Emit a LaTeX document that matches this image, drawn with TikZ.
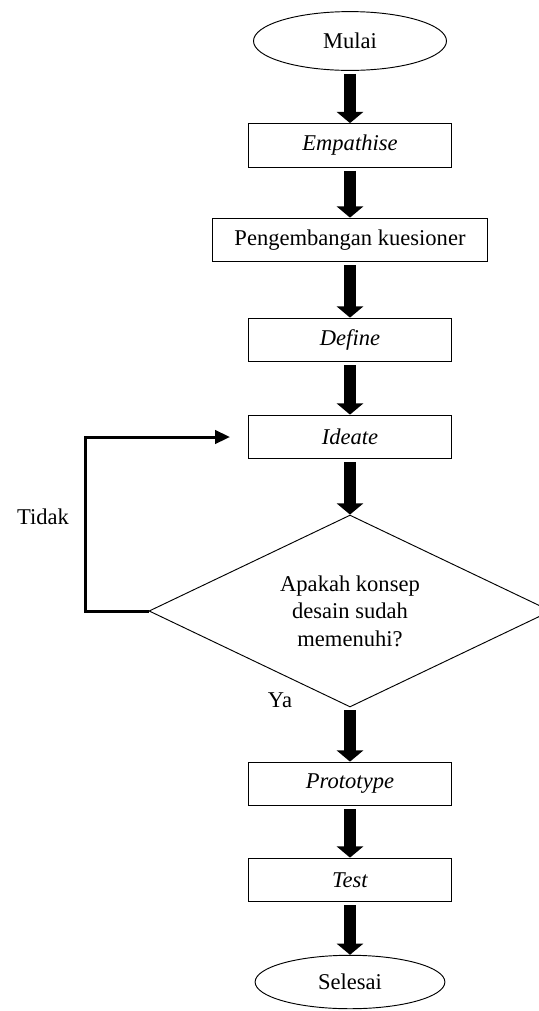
\documentclass[tikz,border=0pt]{standalone}
\usepackage{fontspec}
\setmainfont{Liberation Serif}
\usetikzlibrary{shapes.geometric,arrows.meta}
\tikzset{
	teks/.style={font=\fontsize{12}{14.6}\selectfont},
	kotak/.style={teks,draw,line width=0.5pt,minimum width=3.8cm,minimum height=0.82cm,inner sep=0pt},
	elips/.style={teks,draw,ellipse,line width=0.5pt,inner sep=0pt},
	belah/.style={teks,draw,diamond,aspect=2,line width=0.5pt,minimum width=7.52cm,minimum height=3.59cm,inner sep=0pt,align=center},
	panah/.style={line width=0.243cm,-{Triangle[width=0.49cm,length=0.21cm]},shorten <=1.6pt},
	balik/.style={line width=1.6pt,-{Triangle[width=0.25cm,length=0.28cm]}}
}
\begin{document}
\begin{tikzpicture}[x=0.0187cm,y=-0.0187cm]
		\useasboundingbox (0,0) rectangle (539,1011);
		
		\node[elips,minimum width=3.61cm,minimum height=1.1cm] (mulai) at (350,41) {Mulai};
		\node[kotak] (empathise) at (350,145.5) {\textit{Empathise}};
		\node[kotak,minimum width=5.14cm] (kuesioner) at (350,240) {Pengembangan kuesioner};
		\node[kotak] (define) at (350,340) {\textit{Define}};
		\node[kotak] (ideate) at (350,437) {\textit{Ideate}};
		\node[belah] (putusan) at (350,611) {Apakah konsep\\desain sudah\\memenuhi?};
		\node[kotak] (prototype) at (350,784) {\textit{Prototype}};
		\node[kotak] (test) at (350,880) {\textit{Test}};
		\node[elips,minimum width=3.55cm,minimum height=1.0cm] (selesai) at (350,982) {Selesai};
		
		\node[teks] (tidak) at (43,517) {Tidak};
		\node[teks] (ya) at (280,700) {Ya};
		
		\draw[panah] (mulai.south) -- (empathise.north);
		\draw[panah] (empathise.south) -- (kuesioner.north);
		\draw[panah] (kuesioner.south) -- (define.north);
		\draw[panah] (define.south) -- (ideate.north);
		\draw[panah] (ideate.south) -- (putusan.north);
		\draw[panah] (putusan.south) -- (prototype.north);
		\draw[panah] (prototype.south) -- (test.north);
		\draw[panah] (test.south) -- (selesai.north);
		
		\coordinate (ujung) at (230,437);
		\draw[balik] (putusan.west) -- ++(-63,0) |- (ujung);
	\end{tikzpicture}
\end{document}
